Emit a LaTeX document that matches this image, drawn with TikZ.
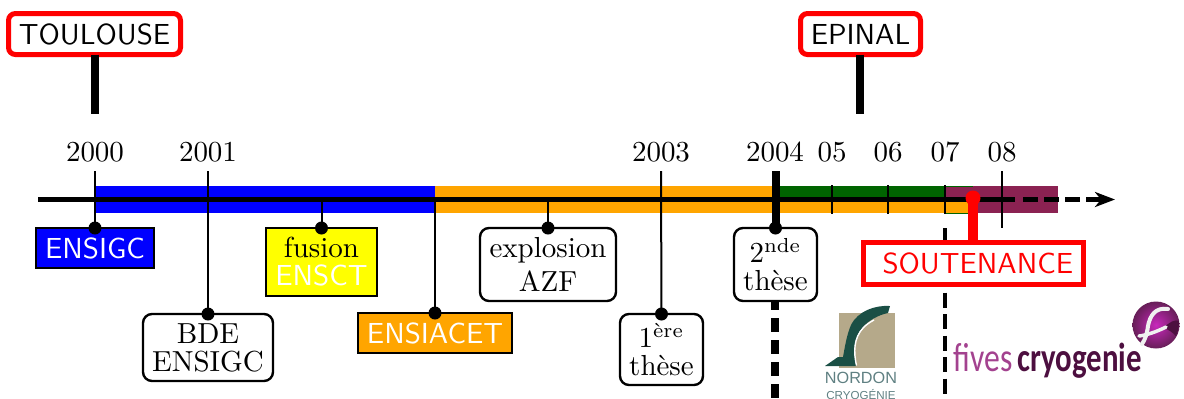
\documentclass[tikz,border=0pt]{standalone}
\usepackage{graphicx}
\usepackage{fontspec}
\newfontfamily\logofont{Carlito}
\newfontfamily\nordonfont{Liberation Sans}
\usetikzlibrary{arrows.meta}
\def\u{0.345pt}
\definecolor{barblue}{HTML}{0000FF}
\definecolor{barorange}{HTML}{FFA500}
\definecolor{bargreen}{HTML}{006400}
\definecolor{barpurple}{HTML}{8B2252}
\definecolor{boxyellow}{HTML}{FFFF00}
\definecolor{signred}{HTML}{FF0000}
\definecolor{nordontan}{HTML}{B5A98A}
\definecolor{nordongreen}{HTML}{1A4F45}
\definecolor{nordontext}{HTML}{5F8082}
\definecolor{fivespink}{HTML}{A3428F}
\definecolor{fivesdark}{HTML}{4D0F40}
\tikzset{
  wh/.style 2 args={minimum width=#1*\u,minimum height=#2*\u,inner sep=0pt,outer sep=0pt},
  tight/.style={align=center,font=\fontsize{10}{9.7}\selectfont},
  roomy/.style={align=center,font=\fontsize{10}{11.7}\selectfont},
  squarebox/.style={draw=black,line width=2.4*\u,text=white,font=\sffamily},
  roundbox/.style={draw=black,fill=white,line width=2.4*\u,rounded corners=9*\u},
  citysign/.style={draw=signred,fill=white,line width=5*\u,rounded corners=7*\u,font=\sffamily},
  yearlabel/.style={anchor=base,inner sep=0pt},
  post/.style={line width=8*\u},
  thin tick/.style={line width=2*\u},
  link/.style={line width=2*\u},
  dot/.style={fill=black},
}
\begin{document}
\begin{tikzpicture}[x=0.345pt,y=-0.345pt]
\useasboundingbox (0,0) rectangle (1184,398);
% coloured periods
\fill[barblue] (95,186) rectangle (435,213);
\fill[barorange] (435,186) rectangle (972,213);
\fill[bargreen] (775,186) rectangle (973,199);
\fill[barpurple] (946,187) rectangle (973,199);
\fill[barpurple] (973,186) rectangle (1058,213);
\fill[bargreen] (946,212.5) rectangle (968,213.5);
% axis
\coordinate (axisL) at (38,199.5);
\coordinate (axisM) at (1015,199.5);
\coordinate (axisD) at (1023,199.5);
\coordinate (axisR) at (1115,199.5);
\draw[line width=5*\u] (axisL) -- (axisM);
\draw[line width=5*\u,dash pattern=on 15*\u off 6*\u,-{Stealth[length=20*\u,width=15*\u,inset=6*\u]}] (axisD) -- (axisR);
% dashed period limits
\coordinate (d4a) at (775,296);
\coordinate (d4b) at (775,398);
\coordinate (d7a) at (945,228);
\coordinate (d7b) at (945,398);
\draw[line width=8*\u,dash pattern=on 14*\u off 8*\u] (d4a) -- (d4b);
\draw[line width=4*\u,dash pattern=on 15*\u off 6.5*\u] (d7a) -- (d7b);
% years
\node[yearlabel] (y2000) at (95,161) {2000};
\node[yearlabel] (y2001) at (208,161) {2001};
\node[yearlabel] (y2003) at (661,161) {2003};
\node[yearlabel] (y2004) at (775,161) {2004};
\node[yearlabel] (y05) at (832,161) {05};
\node[yearlabel] (y06) at (888,161) {06};
\node[yearlabel] (y07) at (945,161) {07};
\node[yearlabel] (y08) at (1002,161) {08};
% tick tops
\coordinate (t2000) at (95,171);
\coordinate (t2001) at (208,171);
\coordinate (t2003) at (661,171);
\coordinate (t2004) at (775.5,171);
\coordinate (t05a) at (832,185);
\coordinate (t05b) at (832,214);
\coordinate (t06a) at (888,185);
\coordinate (t06b) at (888,214);
\coordinate (t07a) at (945,185);
\coordinate (t07b) at (945,214);
\coordinate (t08a) at (1002,171);
\coordinate (t08b) at (1002,228);
\draw[thin tick] (t05a) -- (t05b);
\draw[thin tick] (t06a) -- (t06b);
\draw[thin tick] (t07a) -- (t07b);
\draw[thin tick] (t08a) -- (t08b);
% boxes
\node[squarebox,wh={118}{40},fill=barblue] (ensigc) at (95,248) {ENSIGC};
\node[squarebox,wh={111}{68},fill=boxyellow,tight] (ensct) at (321.5,262) {\textcolor{black}{fusion}\\\sffamily ENSCT};
\node[squarebox,wh={154}{40},fill=barorange] (ensiacet) at (435,333) {ENSIACET};
\node[roundbox,wh={130}{67},tight] (bde) at (208,347.5) {BDE\\ENSIGC};
\node[roundbox,wh={136}{73},roomy] (azf) at (548,264.5) {explosion\\AZF};
\node[roundbox,wh={83}{71},tight] (these1) at (661.5,349.5) {1\textsuperscript{ère}\\thèse};
\node[roundbox,wh={83}{73},tight] (these2) at (775.5,264.5) {2\textsuperscript{nde}\\thèse};
\node[draw=signred,fill=white,line width=5*\u,wh={220}{42},text=signred,font=\sffamily] (sout) at (973.5,263) {\hspace*{3pt}SOUTENANCE};
\node[citysign,wh={172}{41}] (toulouse) at (94.5,34) {TOULOUSE};
\node[citysign,wh={120}{41}] (epinal) at (860.5,34) {EPINAL};
% connectors
\draw[link] (t2000) -- (ensigc.north);
\draw[link] (t2001) -- (bde.north);
\draw[link] (ensct.north |- axisL) -- (ensct.north);
\draw[link] (ensiacet.north |- axisL) -- (ensiacet.north);
\draw[link] (azf.north |- axisL) -- (azf.north);
\draw[link] (t2003) -- (these1.north);
\draw[post] (t2004) -- (these2.north);
\foreach \n in {ensigc,ensct,ensiacet,bde,azf,these1,these2}
  \fill[dot] (\n.north) circle (6.5);
% soutenance pin
\coordinate (pin) at (973,198);
\draw[signred,line width=10.5*\u] (pin) -- (pin |- sout.north);
\fill[signred] (pin) circle (7.5);
% town posts
\coordinate (toulouseFoot) at (95,114);
\coordinate (epinalFoot) at (860,114);
\draw[post] (toulouse.south -| toulouseFoot) -- (toulouseFoot);
\draw[post] (epinal.south -| epinalFoot) -- (epinalFoot);
% Nordon logo
\fill[nordontan] (839,313) rectangle (895,368);
\fill[nordongreen] (890,306) .. controls (875,305) and (858,311) .. (851,325)
  .. controls (847,334) and (845,346) .. (843,357) -- (838,357) -- (825,366) -- (856,366)
  .. controls (853,352) and (853,338) .. (863,327) .. controls (868,321) and (878,315) .. (888,313) -- cycle;
\draw[white,line width=1.4*\u] (856.5,365.5) .. controls (853.5,352) and (853.5,338) .. (863.5,327.5) .. controls (866,325) and (870,322) .. (874,320);
\node[anchor=base,inner sep=0pt,text=nordontext,font=\nordonfont\fontsize{5.6}{6}\selectfont] (nordon) at (861,383) {NORDON};
\node[anchor=base,inner sep=0pt,text=nordontext,font=\nordonfont\fontsize{4}{4}\selectfont] (cryogenie) at (861,399) {CRYOGÉNIE};
% Fives logo
\shade[inner color=fivespink!60!magenta,outer color=fivesdark!70!fivespink] (1156,325) circle (23.5);
\fill[fivesdark] (1163,328) .. controls (1170,322) and (1175,319) .. (1179,321) .. controls (1179,327) and (1178,332) .. (1176,336) .. controls (1172,332) and (1168,329) .. (1163,328) -- cycle;
\draw[white!88!gray,line width=4*\u,line cap=round] (1168,309) .. controls (1155,307) and (1150,316) .. (1148,326) .. controls (1147,334) and (1145,340) .. (1142,344);
\draw[white!88!gray,line width=3.5*\u,line cap=round] (1139,336) .. controls (1147,335) and (1156,332) .. (1166,327);
\node[anchor=base west,inner sep=0pt,text=fivespink,font=\logofont\fontsize{14}{15}\selectfont] (fives) at (953,371) {\scalebox{.78}[1]{fives}};
\node[anchor=base west,inner sep=0pt,text=fivesdark,font=\logofont\bfseries\fontsize{14}{15}\selectfont] (cryo) at (1017,371) {\scalebox{.76}[1]{cryogenie}};
\end{tikzpicture}
\end{document}
